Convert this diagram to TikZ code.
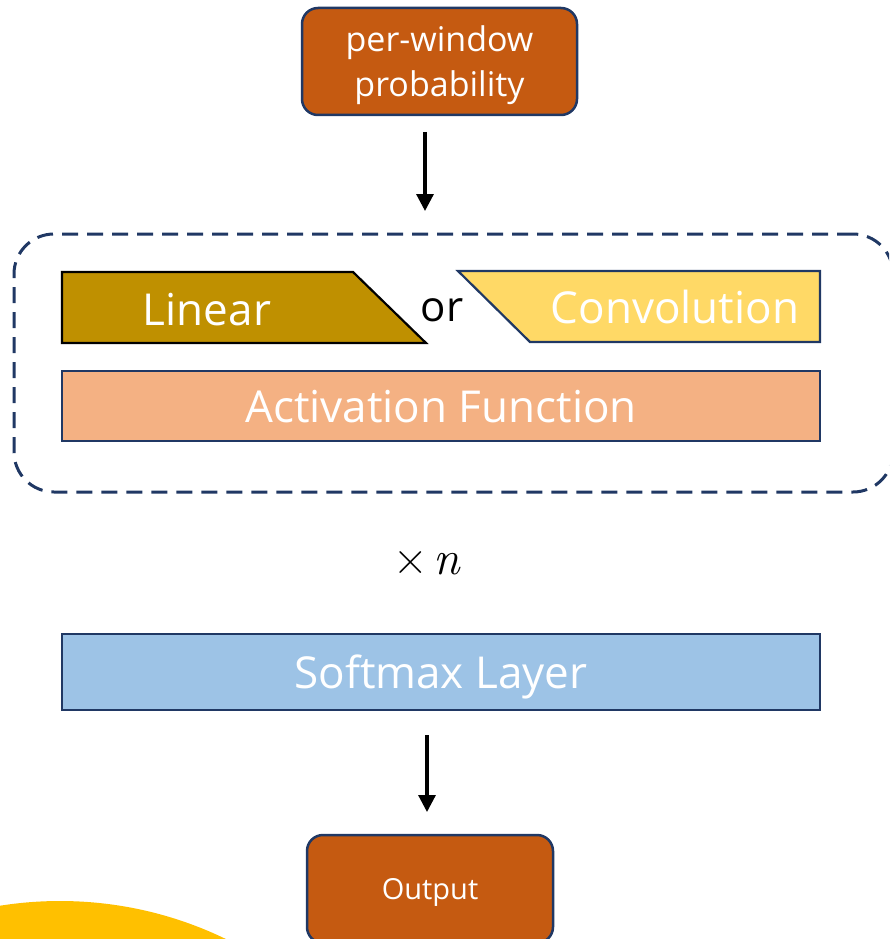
\documentclass[tikz,border=0pt]{standalone}
\usepackage{fontspec}
\setmainfont{Open Sans}
\newfontfamily\serifmath{Latin Modern Roman}
\usetikzlibrary{arrows.meta}
\definecolor{burnt}{HTML}{C55A11}
\definecolor{navy}{HTML}{203864}
\definecolor{olive}{HTML}{BF9000}
\definecolor{paleyellow}{HTML}{FFD966}
\definecolor{peach}{HTML}{F4B183}
\definecolor{skyblue}{HTML}{9DC3E6}
\definecolor{sun}{HTML}{FFC000}
\tikzset{
  endbox/.style={draw=navy, line width=2.5pt, fill=burnt, rounded corners=16pt,
    inner sep=0pt, text=white, align=center, text depth=0pt},
  layerbox/.style={draw=navy, line width=2.2pt, inner sep=0pt, text=white,
    minimum width=758pt, minimum height=70pt, text depth=0pt,
    font=\fontsize{44}{50}\selectfont},
  label/.style={text=white, inner sep=0pt, text depth=0pt,
    font=\fontsize{44}{50}\selectfont},
  flow/.style={line width=3.2pt, -{Triangle[length=17pt,width=17pt]}},
  loopframe/.style={draw=navy, line width=3pt, dash pattern=on 16pt off 9pt,
    rounded corners=40pt, minimum width=879pt, minimum height=258pt, inner sep=0pt}
}
\begin{document}
\begin{tikzpicture}[x=1pt,y=-1pt]
  \useasboundingbox (0,0) rectangle (889,939);
  \clip (0,0) rectangle (889,939);

  % decorative disc in the lower left corner
  \fill[sun] (60,1281) circle (380);

  % input
  \node[endbox, minimum width=275pt, minimum height=107pt,
        font=\fontsize{34}{45}\selectfont] (input) at (439.5,61.5)
        {per-window\\probability};

  % repeated block
  \node[loopframe] (loop) at (453.5,363) {};

  % linear / convolution alternatives
  \draw[line width=2.2pt, fill=olive, draw=black]
    (62,272) -- (353,272) -- (426,343) -- (62,343) -- cycle;
  \node[label] (linear) at (207,309.5) {Linear};
  \node[inner sep=0pt, font=\fontsize{42}{48}\selectfont] (or) at (442,310) {or};
  \draw[line width=2.2pt, fill=paleyellow, draw=navy]
    (458,271) -- (820,271) -- (820,342) -- (530,342) -- cycle;
  \node[label] (conv) at (675,306.5) {Convolution};

  \node[layerbox, fill=peach] (act) at (441,406) {Activation Function};

  % repetition count
  \node[inner sep=0pt, font=\fontsize{48}{54}\selectfont] (times) at (427,563)
    {\serifmath ×\hspace{0.12em}\itshape n};

  \node[layerbox, fill=skyblue, minimum height=76pt] (softmax) at (441,672) {Softmax Layer};

  % output
  \node[endbox, minimum width=246pt, minimum height=108pt,
        font=\fontsize{29}{34}\selectfont] (output) at (430,889) {Output};

  % connectors
  \coordinate (inEnd) at (425,132);
  \coordinate (loopIn) at (425,211);
  \coordinate (smEnd) at (427,735);
  \coordinate (outIn) at (427,812);
  \draw[flow] (inEnd) -- (loopIn);
  \draw[flow] (smEnd) -- (outIn);
\end{tikzpicture}
\end{document}
